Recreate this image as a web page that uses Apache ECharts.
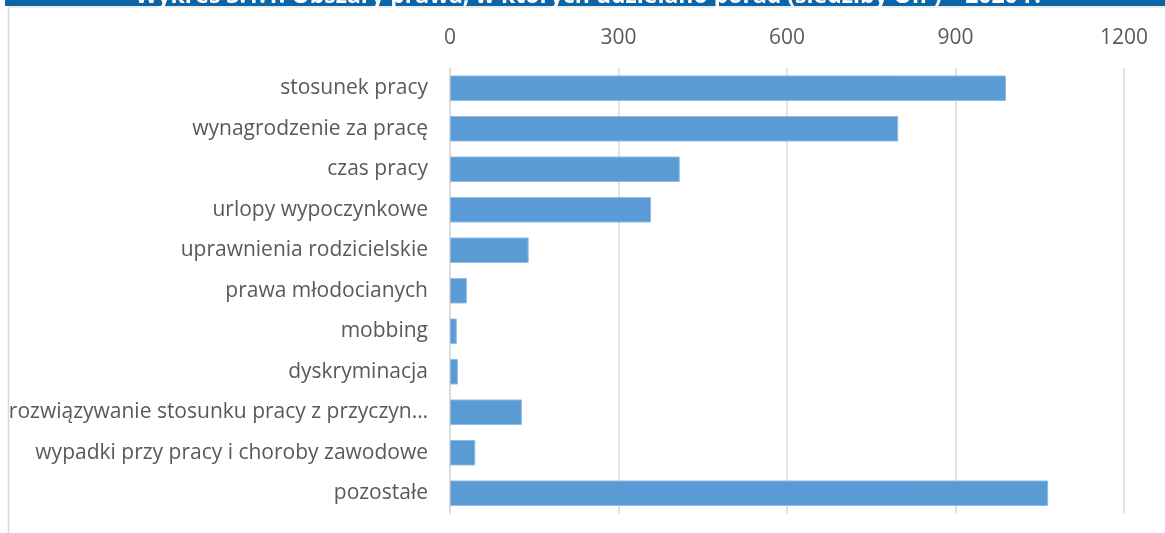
<!DOCTYPE html>
<html>
<head>
<meta charset="utf-8">
<script src="https://cdn.jsdelivr.net/npm/echarts@6/dist/echarts.min.js"></script>
<style>
  html, body { margin: 0; padding: 0; background: #ffffff; }
  #chart { width: 1165px; height: 533px; }
</style>
</head>
<body>
<div id="chart"></div>
<script>
// Areas of labour law in which advice was given
const title = 'Wykres 3.1.1. Obszary prawa, w których udzielano porad (siedziby OIP) – 2020 r.';
const categories = [
  'stosunek pracy',
  'wynagrodzenie za pracę',
  'czas pracy',
  'urlopy wypoczynkowe',
  'uprawnienia rodzicielskie',
  'prawa młodocianych',
  'mobbing',
  'dyskryminacja',
  'rozwiązywanie stosunku pracy z przyczyn…',
  'wypadki przy pracy i choroby zawodowe',
  'pozostałe'
];
const values = [990, 798, 409, 358, 140, 30, 12, 14, 128, 45, 1065];
const axisMin = 0;
const axisMax = 1200;
const axisStep = 300;

const chart = echarts.init(document.getElementById('chart'), null, { renderer: 'canvas' });
chart.setOption({
  animation: false,
  backgroundColor: '#ffffff',
  graphic: [
    { type: 'rect', left: 5, top: 0, shape: { width: 1160, height: 6 }, style: { fill: '#0B63A8' }, silent: true },
    { type: 'line', shape: { x1: 8, y1: 7, x2: 1165, y2: 7 }, style: { stroke: '#d9d9d9', lineWidth: 1 }, silent: true },
    { type: 'line', shape: { x1: 8.5, y1: 7, x2: 8.5, y2: 533 }, style: { stroke: '#d9d9d9', lineWidth: 1.5 }, silent: true },
    {
      type: 'text', x: 588, y: 8, silent: true,
      style: {
        text: title, fill: '#ffffff', align: 'center', verticalAlign: 'bottom',
        font: 'bold 23px "Open Sans", sans-serif'
      }
    }
  ],
  grid: { left: 450, right: 41, top: 68, bottom: 19.5, containLabel: false },
  xAxis: {
    type: 'value',
    position: 'top',
    min: axisMin,
    max: axisMax,
    interval: axisStep,
    axisLine: { show: false },
    axisTick: { show: false },
    splitLine: { show: true, lineStyle: { color: '#d9d9d9', width: 1.5 } },
    axisLabel: {
      color: '#595959', fontSize: 21, fontFamily: 'Open Sans', margin: 19,
      formatter: v => String(v)
    }
  },
  yAxis: {
    type: 'category',
    inverse: true,
    data: categories,
    axisLine: { show: true, lineStyle: { color: '#d9d9d9', width: 1.5 } },
    axisTick: { show: false },
    axisLabel: { color: '#595959', fontSize: 21, fontFamily: 'Open Sans', margin: 22 }
  },
  series: [{
    type: 'bar',
    data: values,
    barCategoryGap: '37%',
    itemStyle: { color: '#5B9BD5', borderColor: '#8fbbe4', borderWidth: 1 }
  }]
});
</script>
</body>
</html>
